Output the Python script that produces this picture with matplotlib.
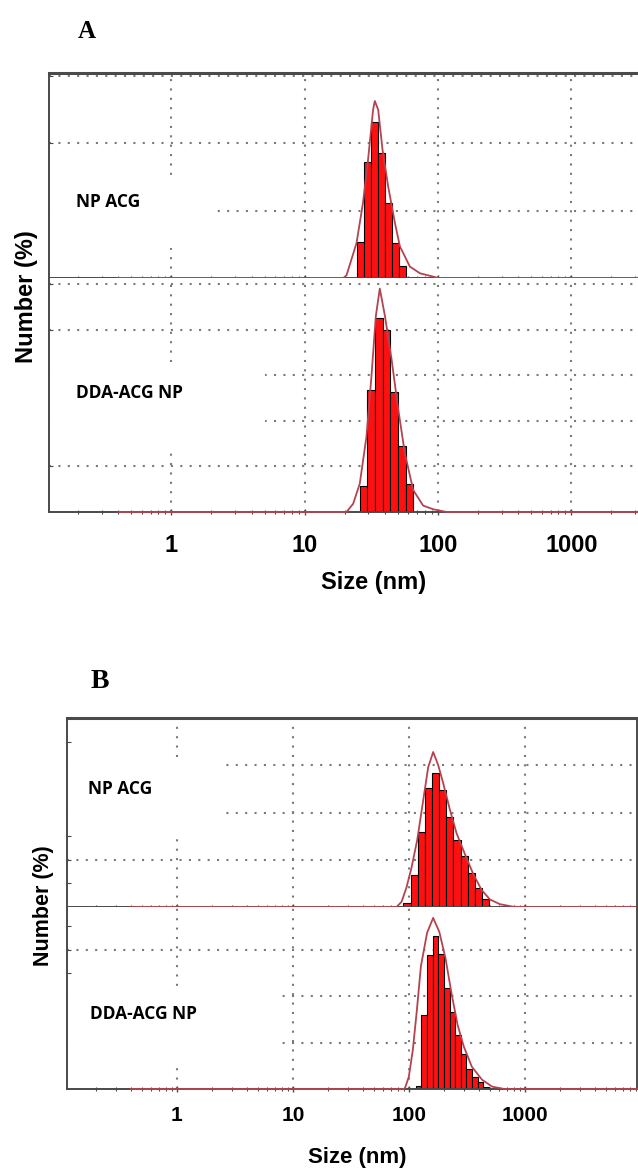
import numpy as np
import matplotlib
matplotlib.use("Agg")
import matplotlib.pyplot as plt
from matplotlib.patches import Rectangle
from matplotlib.ticker import FixedLocator, NullFormatter, NullLocator

# ---- data (size in nm, number in %) ----
# Panel A, NP ACG
a1_bar_size = [26.2, 29.5, 33.3, 37.6, 42.5, 48.0, 54.2]
a1_bar_num = [5.4, 17.2, 23.2, 18.6, 11.1, 5.2, 1.8]
a1_fit_size = [0.4, 19.5, 20.6, 24.5, 27.4, 29.9, 32.6, 33.6, 35.6, 38.4, 42.3, 47.5, 51.8, 61.5, 73.2, 92.2, 100, 10000]
a1_fit_num = [0, 0, 0.4, 5.2, 11.2, 17.6, 25.0, 26.3, 25.0, 19.0, 13.6, 8.2, 4.7, 1.7, 0.7, 0.2, 0, 0]

# Panel A, DDA-ACG NP
a2_bar_size = [27.7, 31.6, 36.0, 41.1, 46.9, 53.5, 61.0]
a2_bar_num = [2.9, 13.4, 21.3, 20.0, 13.2, 7.2, 3.1]
a2_fit_size = [0.4, 20.6, 23.1, 25.9, 29.1, 31.7, 34.2, 36.6, 40.0, 44.9, 50.4, 56.5, 65.2, 77.4, 92.2, 116, 10000]
a2_fit_num = [0, 0, 0.9, 3.1, 8.3, 14.9, 21.5, 24.5, 21.5, 16.7, 11.2, 6.4, 2.4, 0.7, 0.3, 0, 0]

# Panel B, NP ACG
b1_bar_size = [96.4, 111.1, 128.0, 147.4, 169.8, 195.6, 225.3, 259.5, 298.9, 344.3, 396.6, 456.8]
b1_bar_num = [0.45, 3.4, 7.9, 12.6, 14.2, 12.4, 9.5, 7.1, 5.4, 3.6, 2.0, 0.85]
b1_fit_size = [0.4, 78.3, 86.5, 95.5, 105.5, 118, 132.9, 146.7, 161.9, 179, 197.6, 225.6, 257.6, 303.9, 358.3, 423.6, 499.3, 608, 793, 937, 10000]
b1_fit_num = [0, 0, 0.56, 2.1, 4.2, 7.1, 11.3, 14.8, 16.4, 15.0, 13.1, 10.3, 7.8, 5.6, 3.5, 1.8, 0.8, 0.3, 0.03, 0, 0]

# Panel B, DDA-ACG NP
b2_bar_size = [121.4, 135.7, 151.7, 169.5, 189.5, 211.8, 236.7, 264.6, 295.7, 330.4, 369.3, 412.7, 461.2]
b2_bar_num = [0.3, 8.0, 14.4, 16.4, 14.5, 10.9, 8.3, 5.8, 3.8, 2.2, 1.3, 0.8, 0.25]
b2_fit_size = [0.4, 92, 99.8, 108.1, 117.2, 126.9, 143.5, 161.9, 182.8, 206.5, 232.9, 262.8, 296.6, 348.5, 426.8, 522.9, 665.8, 10000]
b2_fit_num = [0, 0, 1.3, 4.2, 8.5, 13.2, 16.8, 18.4, 16.9, 14.1, 10.3, 6.9, 4.6, 2.4, 1.0, 0.25, 0, 0]

decades = [1, 10, 100, 1000]
decade_labels = ["1", "10", "100", "1000"]

W, H = 638, 1170
fig = plt.figure(figsize=(W / 100, H / 100), dpi=100)

BAR_RED = "#ff1010"
FIT_RED = "#b5434f"
SPINE = "#4a4a4a"
GRID = "#7a7a7a"
AX_FONT = "Liberation Sans"
TAG_FONT = "Open Sans"


def px_axes(x0, y0, x1, y1):
    return fig.add_axes([x0 / W, 1 - y1 / H, (x1 - x0) / W, (y1 - y0) / H])


def draw_sub(ax, bar_size, bar_num, fit_size, fit_num, xlim, ylim, grid_y, minor_y, box, tag, tag_xy, tag_size):
    ax.set_xscale("log")
    ax.set_xlim(*xlim)
    ax.set_ylim(*ylim)
    ax.set_axisbelow(True)

    # bars: geometric bin edges from the centres
    lc = np.log10(bar_size)
    mids = (lc[1:] + lc[:-1]) / 2
    edges = np.concatenate([[2 * lc[0] - mids[0]], mids, [2 * lc[-1] - mids[-1]]])
    left = 10 ** edges[:-1]
    width = 10 ** edges[1:] - left
    ax.bar(left, bar_num, width=width, align="edge", color=BAR_RED,
           edgecolor="black", linewidth=0.8, zorder=2)
    ax.plot(fit_size, fit_num, color=FIT_RED, lw=1.3, zorder=3, clip_on=False)

    # dotted grid
    for gx in decades:
        ax.axvline(gx, color=GRID, ls=(0, (1, 3.5)), lw=1.5, zorder=0.5)
    for gy in grid_y:
        ax.axhline(gy, color=GRID, ls=(0, (1, 3.5)), lw=1.5, zorder=0.5)

    # white label box hiding the grid
    x0, y0, x1, y1 = box
    ax.add_patch(Rectangle((x0 / W, 1 - y1 / H), (x1 - x0) / W, (y1 - y0) / H,
                           transform=fig.transFigure, facecolor="white",
                           edgecolor="none", zorder=1))
    fig.text(tag_xy[0] / W, 1 - tag_xy[1] / H, tag, fontsize=tag_size,
             fontweight="bold", family=TAG_FONT, va="center", ha="left")

    ax.xaxis.set_major_locator(FixedLocator(decades))
    ax.xaxis.set_minor_locator(FixedLocator(
        [m * 10.0 ** e for e in range(-1, 4) for m in range(2, 10)]))
    ax.xaxis.set_minor_formatter(NullFormatter())
    ax.tick_params(axis="x", which="major", direction="inout", length=5,
                   width=1, color=SPINE)
    ax.tick_params(axis="x", which="minor", direction="inout", length=3,
                   width=0.8, color=SPINE)
    ax.yaxis.set_major_locator(FixedLocator(grid_y))
    ax.yaxis.set_minor_locator(FixedLocator(minor_y) if minor_y else NullLocator())
    ax.tick_params(axis="y", which="both", direction="in", length=3,
                   width=0.8, color=SPINE, labelleft=False)
    for s in ax.spines.values():
        s.set_color(SPINE)
        s.set_linewidth(1.4)


# ---------------- Panel A ----------------
xa = (0.121, 3162)
axA1 = px_axes(49, 73, 638, 278)
draw_sub(axA1, a1_bar_size, a1_bar_num, a1_fit_size, a1_fit_num, xa, (0, 30.46),
         [10, 20, 30], None, (50, 177, 211, 248), "NP ACG", (76, 202), 12.5)
axA2 = px_axes(49, 278, 638, 512)
draw_sub(axA2, a2_bar_size, a2_bar_num, a2_fit_size, a2_fit_num, xa, (0, 25.66),
         [5, 10, 15, 20, 25], None, (50, 367, 265, 448), "DDA-ACG NP", (76, 393), 12.5)
for ax in (axA1, axA2):
    ax.spines["right"].set_visible(False)
axA1.spines["top"].set_linewidth(2.2)
axA1.tick_params(axis="x", labelbottom=False)
axA2.spines["top"].set_visible(False)
axA2.set_xticklabels(decade_labels)
axA2.tick_params(axis="x", which="major", pad=13, labelsize=17)
for t in axA2.get_xticklabels():
    t.set_fontweight("bold")
    t.set_family(AX_FONT)

fig.text(374 / W, 1 - 582 / H, "Size (nm)", fontsize=17, fontweight="bold",
         family=AX_FONT, ha="center", va="center")
fig.text(26 / W, 1 - 297 / H, "Number (%)", fontsize=17, fontweight="bold",
         family=AX_FONT, ha="center", va="center", rotation=90)
fig.text(87 / W, 1 - 32 / H, "A", fontsize=18, fontweight="bold",
         family="Liberation Serif", ha="center", va="center")

# ---------------- Panel B ----------------
xb = (0.113, 9250)
axB1 = px_axes(67, 718, 637, 907)
draw_sub(axB1, b1_bar_size, b1_bar_num, b1_fit_size, b1_fit_num, xb, (0, 20.0),
         [5, 10, 15, 20], [2.5, 7.5, 12.5, 17.5], (68, 760, 223, 832), "NP ACG", (88, 789), 12.5)
axB2 = px_axes(67, 907, 637, 1089)
draw_sub(axB2, b2_bar_size, b2_bar_num, b2_fit_size, b2_fit_num, xb, (0, 19.57),
         [5, 10, 15], [2.5, 7.5, 12.5, 17.5], (68, 990, 278, 1068), "DDA-ACG NP", (90, 1014), 12.5)
axB1.spines["top"].set_linewidth(2.2)
axB1.tick_params(axis="x", labelbottom=False)
axB2.spines["top"].set_visible(False)
axB2.set_xticklabels(decade_labels)
axB2.tick_params(axis="x", which="major", pad=10, labelsize=15)
for t in axB2.get_xticklabels():
    t.set_fontweight("bold")
    t.set_family(AX_FONT)

fig.text(357 / W, 1 - 1157 / H, "Size (nm)", fontsize=16, fontweight="bold",
         family=AX_FONT, ha="center", va="center")
fig.text(44 / W, 1 - 906 / H, "Number (%)", fontsize=15.5, fontweight="bold",
         family=AX_FONT, ha="center", va="center", rotation=90)
fig.text(100 / W, 1 - 682 / H, "B", fontsize=20, fontweight="bold",
         family="Liberation Serif", ha="center", va="center")

fig.savefig("out.png", dpi=100)
